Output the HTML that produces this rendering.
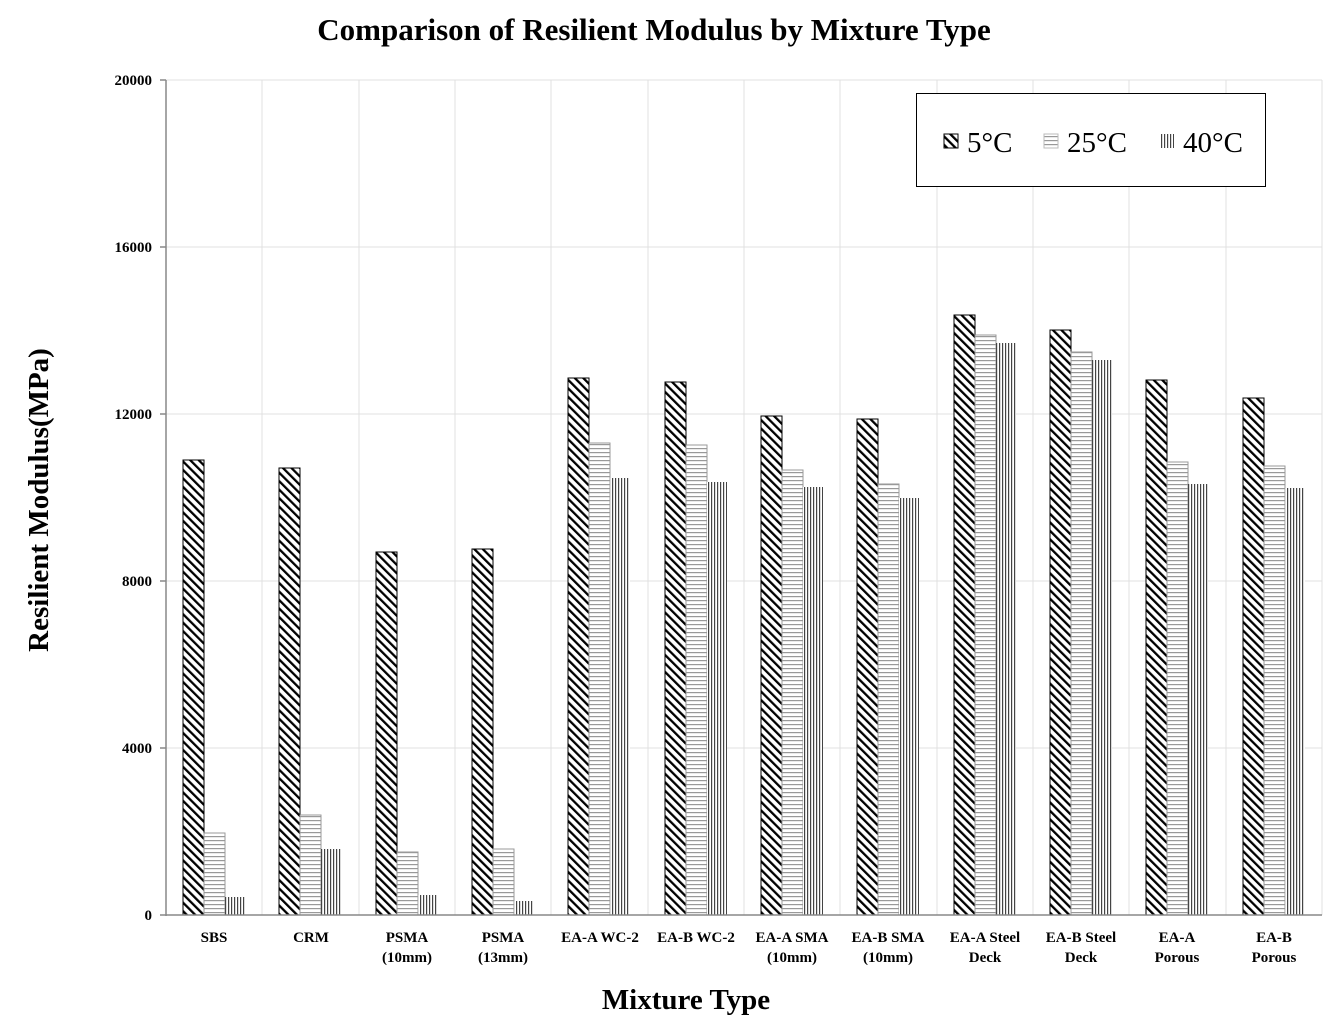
<!DOCTYPE html>
<html><head><meta charset="utf-8"><style>body{margin:0;background:#fff}svg{display:block}</style></head><body>
<svg width="1339" height="1032" xmlns="http://www.w3.org/2000/svg" font-family="Liberation Serif, serif">
<defs>
<pattern id="pd" patternUnits="userSpaceOnUse" width="6" height="6" patternTransform="rotate(-45)"><rect width="6" height="6" fill="#fff"/><rect x="0" y="0" width="2.3" height="6" fill="#000"/></pattern>
<pattern id="ph" patternUnits="userSpaceOnUse" width="4" height="4"><rect width="4" height="4" fill="#fff"/><rect y="0" width="4" height="1.2" fill="#999"/></pattern>
<pattern id="pv" patternUnits="userSpaceOnUse" width="3" height="3"><rect width="3" height="3" fill="#fff"/><rect x="0" width="1.2" height="3" fill="#444"/></pattern>
</defs>
<text x="654" y="40" text-anchor="middle" font-size="31" font-weight="bold">Comparison of Resilient Modulus by Mixture Type</text>
<g stroke="#e0e0e0" stroke-width="1">
<line x1="166" y1="80" x2="1322" y2="80"/><line x1="166" y1="247" x2="1322" y2="247"/><line x1="166" y1="414" x2="1322" y2="414"/><line x1="166" y1="581" x2="1322" y2="581"/><line x1="166" y1="748" x2="1322" y2="748"/>
<line x1="262" y1="80" x2="262" y2="915"/><line x1="359" y1="80" x2="359" y2="915"/><line x1="455" y1="80" x2="455" y2="915"/><line x1="551" y1="80" x2="551" y2="915"/><line x1="648" y1="80" x2="648" y2="915"/><line x1="744" y1="80" x2="744" y2="915"/><line x1="840" y1="80" x2="840" y2="915"/><line x1="937" y1="80" x2="937" y2="915"/><line x1="1033" y1="80" x2="1033" y2="915"/><line x1="1129" y1="80" x2="1129" y2="915"/><line x1="1226" y1="80" x2="1226" y2="915"/><line x1="1322" y1="80" x2="1322" y2="915"/>
</g>
<g stroke="#000" stroke-width="1">
<rect x="183" y="460" width="21" height="455" fill="url(#pd)"/>
<rect x="279" y="468" width="21" height="447" fill="url(#pd)"/>
<rect x="376" y="552" width="21" height="363" fill="url(#pd)"/>
<rect x="472" y="549" width="21" height="366" fill="url(#pd)"/>
<rect x="568" y="378" width="21" height="537" fill="url(#pd)"/>
<rect x="665" y="382" width="21" height="533" fill="url(#pd)"/>
<rect x="761" y="416" width="21" height="499" fill="url(#pd)"/>
<rect x="857" y="419" width="21" height="496" fill="url(#pd)"/>
<rect x="954" y="315" width="21" height="600" fill="url(#pd)"/>
<rect x="1050" y="330" width="21" height="585" fill="url(#pd)"/>
<rect x="1146" y="380" width="21" height="535" fill="url(#pd)"/>
<rect x="1243" y="398" width="21" height="517" fill="url(#pd)"/>
</g>
<g stroke="#999" stroke-width="1">
<rect x="204" y="833" width="21" height="82" fill="url(#ph)"/>
<rect x="300" y="815" width="21" height="100" fill="url(#ph)"/>
<rect x="397" y="852" width="21" height="63" fill="url(#ph)"/>
<rect x="493" y="849" width="21" height="66" fill="url(#ph)"/>
<rect x="589" y="443" width="21" height="472" fill="url(#ph)"/>
<rect x="686" y="445" width="21" height="470" fill="url(#ph)"/>
<rect x="782" y="470" width="21" height="445" fill="url(#ph)"/>
<rect x="878" y="484" width="21" height="431" fill="url(#ph)"/>
<rect x="975" y="335" width="21" height="580" fill="url(#ph)"/>
<rect x="1071" y="352" width="21" height="563" fill="url(#ph)"/>
<rect x="1167" y="462" width="21" height="453" fill="url(#ph)"/>
<rect x="1264" y="466" width="21" height="449" fill="url(#ph)"/>
</g>
<g stroke="none">
<rect x="225" y="897" width="20" height="18" fill="url(#pv)"/>
<rect x="321" y="849" width="20" height="66" fill="url(#pv)"/>
<rect x="418" y="895" width="20" height="20" fill="url(#pv)"/>
<rect x="514" y="901" width="20" height="14" fill="url(#pv)"/>
<rect x="610" y="478" width="20" height="437" fill="url(#pv)"/>
<rect x="707" y="482" width="20" height="433" fill="url(#pv)"/>
<rect x="803" y="487" width="20" height="428" fill="url(#pv)"/>
<rect x="899" y="498" width="20" height="417" fill="url(#pv)"/>
<rect x="996" y="343" width="20" height="572" fill="url(#pv)"/>
<rect x="1092" y="360" width="20" height="555" fill="url(#pv)"/>
<rect x="1188" y="484" width="20" height="431" fill="url(#pv)"/>
<rect x="1285" y="488" width="20" height="427" fill="url(#pv)"/>
</g>
<g stroke="#888" stroke-width="1.5">
<line x1="166" y1="80" x2="166" y2="916"/><line x1="166" y1="915" x2="1322" y2="915"/>
<line x1="160" y1="80" x2="166" y2="80"/><line x1="160" y1="247" x2="166" y2="247"/><line x1="160" y1="414" x2="166" y2="414"/><line x1="160" y1="581" x2="166" y2="581"/><line x1="160" y1="748" x2="166" y2="748"/><line x1="160" y1="915" x2="166" y2="915"/>
</g>
<g font-size="15" font-weight="bold" text-anchor="end">
<text x="152" y="85">20000</text><text x="152" y="252">16000</text><text x="152" y="419">12000</text><text x="152" y="586">8000</text><text x="152" y="753">4000</text><text x="152" y="920">0</text>
</g>
<g font-size="15" font-weight="bold" text-anchor="middle">
<text x="214" y="942">SBS</text><text x="311" y="942">CRM</text>
<text x="407" y="942">PSMA</text><text x="407" y="962">(10mm)</text>
<text x="503" y="942">PSMA</text><text x="503" y="962">(13mm)</text>
<text x="600" y="942">EA-A WC-2</text><text x="696" y="942">EA-B WC-2</text>
<text x="792" y="942">EA-A SMA</text><text x="792" y="962">(10mm)</text>
<text x="888" y="942">EA-B SMA</text><text x="888" y="962">(10mm)</text>
<text x="985" y="942">EA-A Steel</text><text x="985" y="962">Deck</text>
<text x="1081" y="942">EA-B Steel</text><text x="1081" y="962">Deck</text>
<text x="1177" y="942">EA-A</text><text x="1177" y="962">Porous</text>
<text x="1274" y="942">EA-B</text><text x="1274" y="962">Porous</text>
</g>
<text x="686" y="1009" text-anchor="middle" font-size="29" font-weight="bold">Mixture Type</text>
<text transform="translate(48,500) rotate(-90)" text-anchor="middle" font-size="29" font-weight="bold">Resilient Modulus(MPa)</text>
<rect x="916.5" y="93.5" width="349" height="93" fill="#fff" stroke="#000" stroke-width="1"/>
<rect x="944" y="134" width="14" height="14" fill="url(#pd)" stroke="#000" stroke-width="1"/>
<text x="967" y="152" font-size="29">5°C</text>
<rect x="1044" y="134" width="14" height="14" fill="url(#ph)" stroke="#bbb" stroke-width="1"/>
<text x="1067" y="152" font-size="29">25°C</text>
<rect x="1160" y="134" width="14" height="14" fill="url(#pv)"/>
<text x="1183" y="152" font-size="29">40°C</text>
</svg>
</body></html>
